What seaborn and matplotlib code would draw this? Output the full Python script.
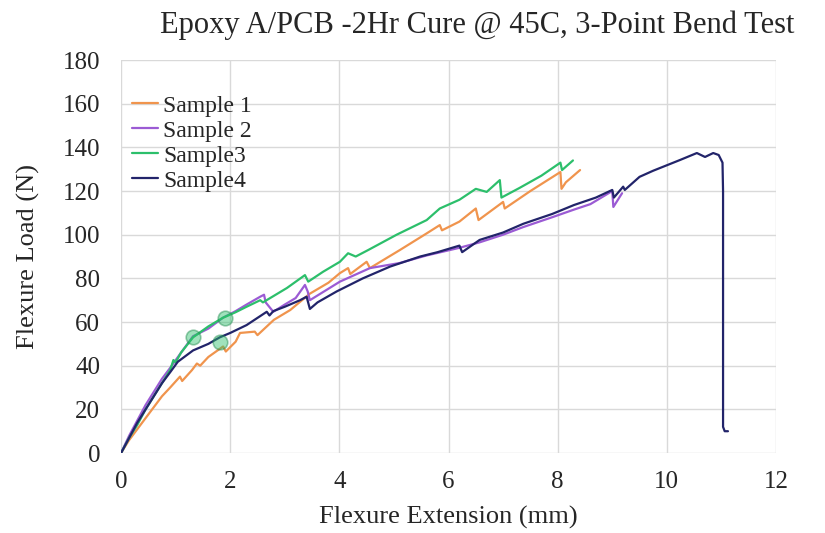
import matplotlib
matplotlib.use("Agg")
import matplotlib.pyplot as plt
import seaborn as sns
import pandas as pd

# Données (extension en mm, charge en N)
s1_x = [0, 0.15, 0.3, 0.45, 0.6, 0.75, 0.9, 1.08, 1.12, 1.3, 1.39, 1.45, 1.6, 1.87, 1.92, 2.1, 2.18, 2.45, 2.5,
        2.8, 3.1, 3.46, 3.8, 4.01, 4.16, 4.2, 4.5, 4.56, 5.11, 5.6, 5.84, 5.88, 6.2, 6.5, 6.55,
        7.0, 7.03, 7.5, 8.05, 8.07, 8.15, 8.41]
s1_y = [0, 6, 11, 16, 21, 26, 30, 35, 33, 38, 41, 40, 44, 48.8, 46.5, 51, 55, 55.6, 54,
        61, 65.5, 73, 78, 82.4, 84.7, 82, 87.6, 84.7, 93, 100.6, 104.4, 102, 106, 112, 106.7,
        115, 112, 120, 128.7, 121, 124, 129.6]

s2_x = [0, 0.15, 0.3, 0.45, 0.6, 0.75, 0.9, 1.1, 1.32, 1.6, 1.87, 2.1, 2.3, 2.55, 2.62, 2.65, 2.79, 3.0, 3.2,
        3.37, 3.42, 3.46, 4.01, 4.56, 5.1, 5.6, 6.2, 6.57, 7.0, 7.37, 7.9, 8.3, 8.6, 9.0, 9.02, 9.18]
s2_y = [0, 8, 15, 22, 28, 34, 39, 46, 53.5, 57, 62, 65, 68, 71.6, 72.5, 69, 64.7, 68, 71,
        77, 74, 70, 78.5, 84.7, 87, 90.5, 94, 96.5, 100, 103.5, 108, 111.5, 114, 120, 112.7, 119]

s3_x = [0, 0.15, 0.3, 0.45, 0.6, 0.75, 0.9, 0.96, 1.0, 1.1, 1.32, 1.6, 1.87, 2.1, 2.3, 2.55, 2.6, 2.8, 3.04,
        3.37, 3.43, 3.7, 4.01, 4.16, 4.3, 4.53, 5.05, 5.6, 5.84, 6.2, 6.5, 6.7, 6.94, 6.97,
        7.3, 7.7, 8.05, 8.08, 8.28]
s3_y = [0, 7, 13, 20, 26, 32, 38, 42.6, 41.5, 46, 53, 58, 62, 64.5, 67, 70, 69, 72, 75.6,
        81.5, 78.5, 83, 87.6, 91.5, 90, 93, 100, 106.7, 112, 116, 121, 119.6, 125, 117,
        121.4, 127, 133, 129.6, 134]

s4_x = [0, 0.15, 0.3, 0.45, 0.6, 0.75, 0.9, 1.04, 1.32, 1.6, 1.81, 2.0, 2.3, 2.67, 2.72, 2.79, 3.0, 3.28, 3.4,
        3.46, 3.6, 3.95, 4.43, 4.93, 5.48, 5.8, 6.2, 6.25, 6.57, 7.0, 7.37, 7.9, 8.3, 8.7,
        9.0, 9.03, 9.2, 9.23, 9.5, 9.75, 10.0, 10.25, 10.55, 10.7, 10.85, 10.95, 11.02, 11.03,
        11.03, 11.06, 11.12]
s4_y = [0, 7, 14, 20, 26, 32, 37, 41.8, 47, 50, 53, 55, 58.6, 64.7, 63, 65, 67, 70, 71.6,
        66, 69, 74, 80, 85.4, 90, 92, 95, 92, 97.6, 101, 105, 109.5, 113.6, 117,
        120.5, 117, 122, 120.5, 126.5, 129.3, 131.8, 134.3, 137.4, 135.6, 137.4, 136.5, 133, 120,
        12, 10, 10]

# Cercles verts (points marqués)
mark_x = [1.32, 1.9, 1.82]
mark_y = [53, 62, 51]

samples = ["Sample 1", "Sample 2", "Sample3", "Sample4"]
colors = ["#F0944D", "#9B5BD4", "#2CBF6B", "#22246A"]
curves = [(s1_x, s1_y), (s2_x, s2_y), (s3_x, s3_y), (s4_x, s4_y)]

sns.set_style("whitegrid")
plt.rcParams["font.family"] = ["Liberation Serif", "DejaVu Serif"]

fig = plt.figure(figsize=(8.25, 5.33), dpi=100)
ax = fig.add_axes([0.1467, 0.150, 0.7939, 0.7374])

for name, col, (xs, ys) in zip(samples, colors, curves):
    df = pd.DataFrame({"ext": xs, "load": ys})
    sns.lineplot(data=df, x="ext", y="load", ax=ax, color=col, label=name,
                 sort=False, estimator=None, linewidth=1.6)

ax.scatter(mark_x, mark_y, s=110, facecolor="#2CBF6B", alpha=0.45,
           edgecolor="#1E8A4C", linewidth=1.2, zorder=5)

ax.set_xlim(0, 12)
ax.set_ylim(0, 180)
ax.set_xticks(range(0, 13, 2))
ax.set_yticks(range(0, 181, 20))
ax.grid(color="#d9d9d9", linewidth=1.0)
for sp in ax.spines.values():
    sp.set_visible(False)
ax.tick_params(axis="both", length=7, color="#d9d9d9", labelsize=18, pad=6, width=1.0)
ax.tick_params(axis="y", pad=8)

ax.set_xlabel("Flexure Extension (mm)", fontsize=19, labelpad=9)
ax.set_ylabel("Flexure Load (N)", fontsize=19, labelpad=16)
fig.text(0.579, 0.953, "Epoxy A/PCB -2Hr Cure @ 45C, 3-Point Bend Test",
         fontsize=22, ha="center", va="center")

ax.legend(loc="upper left", bbox_to_anchor=(-0.008, 0.953), frameon=False, fontsize=17,
          handlelength=1.1, handletextpad=0.2, labelspacing=0.15, borderaxespad=0.3)

plt.savefig("out.png", dpi=100)
